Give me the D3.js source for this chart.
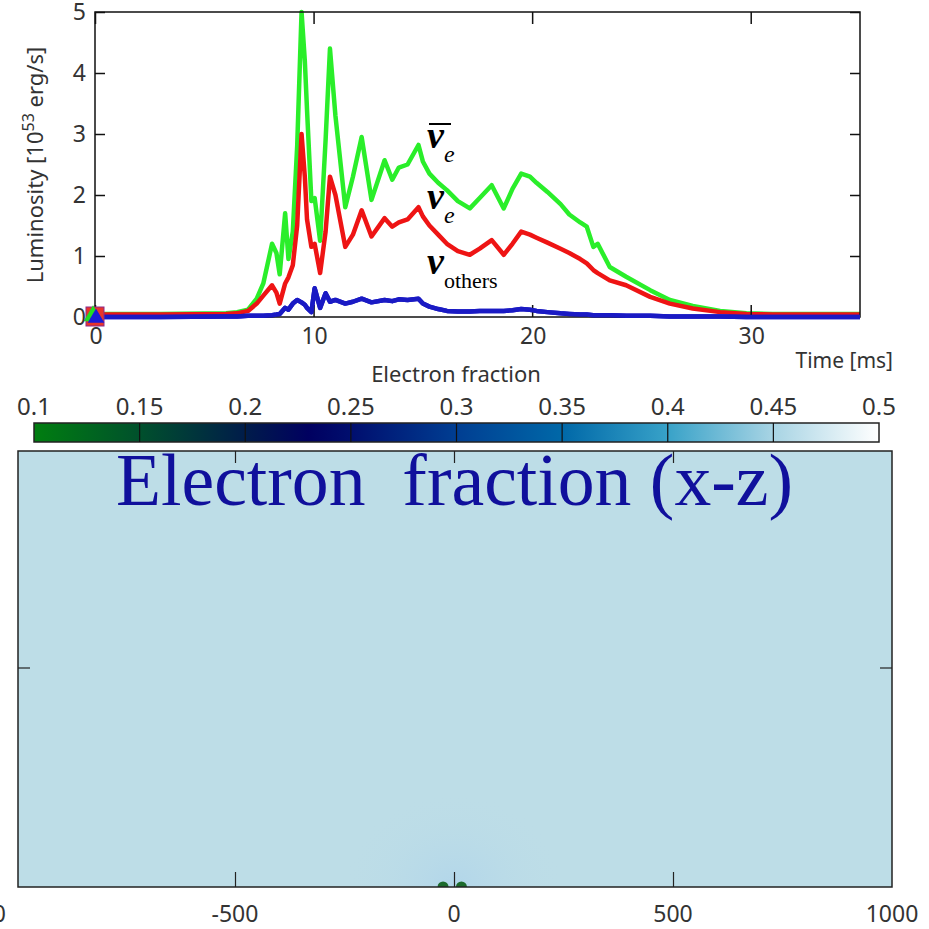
<!DOCTYPE html>
<html>
<head>
<meta charset="utf-8">
<script src="https://cdn.jsdelivr.net/npm/d3@7"></script>
<style>
  body { margin: 0; background: #fff; }
  svg { display: block; }
  .tick-lbl { font-family: "Noto Sans", "DejaVu Sans", sans-serif; fill: #333; }
</style>
</head>
<body>
<div id="chart"></div>
<script>
// ---- data ----
var timeMs = [0, 3, 6, 6.5, 7, 7.4, 7.7, 8.1, 8.3, 8.45, 8.7, 8.85, 9.05, 9.25, 9.45, 9.6, 9.7, 9.9,
  10.05, 10.3, 10.55, 10.75, 11.0, 11.45, 11.8, 12.2, 12.65, 13.25, 13.6, 13.9, 14.3, 14.8, 15.0,
  15.3, 15.7, 16.1, 16.6, 17.15, 17.6, 18.15, 18.7, 19.1, 19.5, 19.9, 20.2, 20.7, 21.3, 21.7,
  22.2, 22.5, 22.8, 23.0, 23.55, 24.3, 25.4, 26.3, 27.35, 28.6, 29.8, 31, 35];

var lumAntiNue = [0.05, 0.05, 0.06, 0.08, 0.12, 0.3, 0.55, 1.2, 1.05, 0.7, 1.7, 0.95, 1.4, 2.8, 5.0, 4.2, 3.4, 1.9,
  1.95, 1.25, 2.9, 4.4, 3.3, 1.8, 2.3, 2.95, 1.92, 2.57, 2.25, 2.45, 2.5, 2.82, 2.55,
  2.35, 2.2, 2.08, 1.9, 1.78, 1.95, 2.16, 1.78, 2.1, 2.35, 2.3, 2.2, 2.05, 1.85, 1.68,
  1.55, 1.48, 1.15, 1.2, 0.82, 0.66, 0.44, 0.28, 0.18, 0.1, 0.06, 0.05, 0.05];

var lumNue = [0.04, 0.04, 0.05, 0.06, 0.1, 0.22, 0.35, 0.52, 0.4, 0.22, 0.55, 0.65, 0.85, 1.5, 3.0, 2.3, 1.6, 1.15,
  1.2, 0.72, 1.4, 2.3, 2.0, 1.15, 1.35, 1.75, 1.32, 1.62, 1.48, 1.55, 1.6, 1.8, 1.65,
  1.5, 1.35, 1.2, 1.08, 1.02, 1.12, 1.26, 1.02, 1.2, 1.4, 1.35, 1.3, 1.22, 1.12, 1.05,
  0.95, 0.88, 0.77, 0.72, 0.6, 0.52, 0.33, 0.22, 0.14, 0.08, 0.05, 0.04, 0.04];

var lumOthers = [0.0, 0.0, 0.01, 0.01, 0.02, 0.02, 0.02, 0.03, 0.04, 0.05, 0.15, 0.12, 0.22, 0.28, 0.24, 0.2, 0.15, 0.08,
  0.47, 0.15, 0.39, 0.25, 0.28, 0.22, 0.25, 0.3, 0.24, 0.28, 0.26, 0.29, 0.28, 0.3, 0.22,
  0.17, 0.13, 0.1, 0.09, 0.09, 0.1, 0.1, 0.1, 0.11, 0.13, 0.12, 0.1, 0.08, 0.06, 0.05,
  0.04, 0.04, 0.03, 0.03, 0.03, 0.02, 0.02, 0.01, 0.01, 0.01, 0.0, 0.0, 0.0];

var timeTicks = [0, 10, 20, 30];
var lumTicks = [0, 1, 2, 3, 4, 5];

var yeTicks = [0.1, 0.15, 0.2, 0.25, 0.3, 0.35, 0.4, 0.45, 0.5];
var yeStopVals = [0.1, 0.15, 0.2, 0.23, 0.25, 0.3, 0.35, 0.4, 0.45, 0.5];
var yeStopCols = ["#007e10", "#00502c", "#001c4a", "#000060", "#000e6e", "#003e92", "#0068a8", "#38a2c8", "#a8d4e4", "#ffffff"];

var kmTicks = [-500, 0, 500, 1000];
var coreDotsKm = [-25, 17];

// ---- layout ----
var W = 929, H = 929;
var svg = d3.select("#chart").append("svg").attr("width", W).attr("height", H);

// =============== luminosity panel ===============
var lum = { left: 95, right: 860, top: 12, bottom: 317 };

var x = d3.scaleLinear().domain([0, 35]).range([lum.left, lum.right]);
var y = d3.scaleLinear().domain([0, 5]).range([lum.bottom, lum.top]);

var line = function (vals) {
  return d3.line()
    .x(function (d, i) { return x(timeMs[i]); })
    .y(function (d) { return y(d); })(vals);
};

var series = [
  { vals: lumAntiNue, color: "#2aee2a" },
  { vals: lumNue, color: "#ee1414" },
  { vals: lumOthers, color: "#1a1ac4" }
];

svg.selectAll(".lum-line")
  .data(series)
  .enter().append("path")
  .attr("class", "lum-line")
  .attr("d", function (d) { return line(d.vals); })
  .attr("fill", "none")
  .attr("stroke", function (d) { return d.color; })
  .attr("stroke-width", 4.5)
  .attr("stroke-linejoin", "round");

// axes with inward ticks
var gx = svg.append("g").attr("transform", "translate(0," + lum.bottom + ")")
  .call(d3.axisTop(x).tickValues(timeTicks).tickSize(12).tickFormat(""));
var gxTop = svg.append("g").attr("transform", "translate(0," + lum.top + ")")
  .call(d3.axisBottom(x).tickValues(timeTicks).tickSize(12).tickFormat(""));
var gy = svg.append("g").attr("transform", "translate(" + lum.left + ",0)")
  .call(d3.axisRight(y).tickValues(lumTicks).tickSize(10).tickFormat(""));
var gyR = svg.append("g").attr("transform", "translate(" + lum.right + ",0)")
  .call(d3.axisLeft(y).tickValues(lumTicks).tickSize(10).tickFormat(""));
[gx, gxTop, gy, gyR].forEach(function (g) {
  g.select(".domain").remove();
  g.selectAll("line").attr("stroke", "#111").attr("stroke-width", 1.5);
});

// frame
svg.append("rect")
  .attr("x", lum.left).attr("y", lum.top)
  .attr("width", lum.right - lum.left).attr("height", lum.bottom - lum.top)
  .attr("fill", "none").attr("stroke", "#111").attr("stroke-width", 1.5);

// redraw blue on top of frame bottom
svg.append("path").attr("d", line(lumOthers)).attr("fill", "none")
  .attr("stroke", "#1a1ac4").attr("stroke-width", 4.5).attr("stroke-linejoin", "round");

// start markers at origin
svg.append("rect")
  .attr("x", x(0) - 9).attr("y", y(0) - 10).attr("width", 18).attr("height", 19)
  .attr("fill", "#e8342a").attr("stroke", "#8a2a8a").attr("stroke-width", 1);
svg.append("path")
  .attr("d", d3.symbol(d3.symbolTriangle, 150)())
  .attr("transform", "translate(" + (x(0) - 2) + "," + (y(0) - 1) + ")")
  .attr("fill", "#22dd22");
svg.append("path")
  .attr("d", d3.symbol(d3.symbolTriangle, 120)())
  .attr("transform", "translate(" + (x(0) + 1) + "," + (y(0) + 1) + ")")
  .attr("fill", "#1a1ad8");

// tick labels
svg.selectAll(".ylbl").data(lumTicks).enter().append("text")
  .attr("class", "tick-lbl")
  .attr("x", lum.left - 9).attr("y", function (d) { return y(d) + 8; })
  .attr("text-anchor", "end").attr("font-size", 23)
  .text(function (d) { return d; });
svg.selectAll(".xlbl").data(timeTicks).enter().append("text")
  .attr("class", "tick-lbl")
  .attr("x", function (d) { return x(d) + 1; }).attr("y", lum.bottom + 27)
  .attr("text-anchor", "middle").attr("font-size", 23)
  .text(function (d) { return d; });

// axis titles
var yt = svg.append("text").attr("class", "tick-lbl")
  .attr("transform", "translate(43," + 165 + ") rotate(-90)")
  .attr("text-anchor", "middle").attr("font-size", 22);
yt.append("tspan").text("Luminosity [10");
yt.append("tspan").attr("dy", -9).attr("font-size", 16).text("53");
yt.append("tspan").attr("dy", 9).text(" erg/s]");

svg.append("text").attr("class", "tick-lbl")
  .attr("x", 893).attr("y", 368).attr("text-anchor", "end").attr("font-size", 21)
  .text("Time [ms]");

// neutrino labels
var nuFont = "'Liberation Serif', 'DejaVu Serif', serif";
function nuLabel(xp, yp, sub, bar, subItalic) {
  var t = svg.append("text").attr("x", xp).attr("y", yp)
    .attr("font-family", nuFont).attr("fill", "#000");
  t.append("tspan").attr("font-size", 38).attr("font-weight", "bold").attr("font-style", "italic").text("\u03bd");
  t.append("tspan").attr("dy", 14).attr("font-size", subItalic ? 24 : 22)
    .attr("font-style", subItalic ? "italic" : "normal").text(sub);
  if (bar) {
    svg.append("line").attr("x1", xp + 2).attr("x2", xp + 24)
      .attr("y1", yp - 24).attr("y2", yp - 24)
      .attr("stroke", "#000").attr("stroke-width", 2);
  }
}
nuLabel(427, 148, "e", true, true);
nuLabel(427, 209, "e", false, true);
nuLabel(427, 274, "others", false, false);

// =============== colorbar ===============
svg.append("text").attr("class", "tick-lbl")
  .attr("x", 456).attr("y", 382).attr("text-anchor", "middle").attr("font-size", 22)
  .text("Electron fraction");

var cx = d3.scaleLinear().domain([0.1, 0.5]).range([34, 879]);
var cb = { top: 423, bottom: 442 };

var defs = svg.append("defs");
var grad = defs.append("linearGradient").attr("id", "yeGrad")
  .attr("gradientUnits", "userSpaceOnUse")
  .attr("x1", cx(0.1)).attr("x2", cx(0.5)).attr("y1", 0).attr("y2", 0);
yeStopVals.forEach(function (v, i) {
  grad.append("stop")
    .attr("offset", (v - 0.1) / 0.4)
    .attr("stop-color", yeStopCols[i]);
});

svg.append("rect")
  .attr("x", cx(0.1)).attr("y", cb.top)
  .attr("width", cx(0.5) - cx(0.1)).attr("height", cb.bottom - cb.top)
  .attr("fill", "url(#yeGrad)").attr("stroke", "#222").attr("stroke-width", 1.5);
svg.selectAll(".cbsep").data(yeTicks.slice(1, -1)).enter().append("line")
  .attr("x1", function (d) { return cx(d); }).attr("x2", function (d) { return cx(d); })
  .attr("y1", cb.top).attr("y2", cb.bottom)
  .attr("stroke", "#111").attr("stroke-width", 1.2);
svg.selectAll(".cblbl").data(yeTicks).enter().append("text")
  .attr("class", "tick-lbl")
  .attr("x", function (d) { return cx(d); }).attr("y", 415)
  .attr("text-anchor", "middle").attr("font-size", 24)
  .text(function (d) { return d; });

// =============== electron fraction slice ===============
var slab = { left: 18, right: 892, top: 451, bottom: 887 };
var kx = d3.scaleLinear().domain([-1000, 1000]).range([16, 892]);

var glow = defs.append("radialGradient").attr("id", "coreGlow");
glow.append("stop").attr("offset", 0).attr("stop-color", "#b2d6ea").attr("stop-opacity", 1);
glow.append("stop").attr("offset", 1).attr("stop-color", "#bddde7").attr("stop-opacity", 0);
defs.append("clipPath").attr("id", "slabClip").append("rect")
  .attr("x", slab.left).attr("y", slab.top)
  .attr("width", slab.right - slab.left).attr("height", slab.bottom - slab.top);

var slabG = svg.append("g").attr("clip-path", "url(#slabClip)");
slabG.append("rect")
  .attr("x", slab.left).attr("y", slab.top)
  .attr("width", slab.right - slab.left).attr("height", slab.bottom - slab.top)
  .attr("fill", "#bddde7");
slabG.append("ellipse")
  .attr("cx", kx(0)).attr("cy", slab.bottom).attr("rx", 110).attr("ry", 95)
  .attr("fill", "url(#coreGlow)");
slabG.selectAll(".core").data(coreDotsKm).enter().append("circle")
  .attr("cx", function (d) { return kx(d); }).attr("cy", slab.bottom)
  .attr("r", 5.5).attr("fill", "#1c6a2c");

svg.append("rect")
  .attr("x", slab.left).attr("y", slab.top)
  .attr("width", slab.right - slab.left).attr("height", slab.bottom - slab.top)
  .attr("fill", "none").attr("stroke", "#222").attr("stroke-width", 1.5);

var kxb = svg.append("g").attr("transform", "translate(0," + slab.bottom + ")")
  .call(d3.axisTop(kx).tickValues([-500, 0, 500]).tickSize(15).tickFormat(""));
var kxt = svg.append("g").attr("transform", "translate(0," + slab.top + ")")
  .call(d3.axisBottom(kx).tickValues([-500, 0, 500]).tickSize(12).tickFormat(""));
[kxb, kxt].forEach(function (g) {
  g.select(".domain").remove();
  g.selectAll("line").attr("stroke", "#222").attr("stroke-width", 1.2);
});
// side ticks at mid height
[[slab.left, 12], [slab.right, -12]].forEach(function (s) {
  svg.append("line").attr("x1", s[0]).attr("x2", s[0] + s[1])
    .attr("y1", 668).attr("y2", 668).attr("stroke", "#222").attr("stroke-width", 1.2);
});

svg.selectAll(".kmlbl").data(kmTicks).enter().append("text")
  .attr("class", "tick-lbl")
  .attr("x", function (d) { return kx(d); }).attr("y", 922)
  .attr("text-anchor", "middle").attr("font-size", 23)
  .text(function (d) { return d; });
svg.append("text").attr("class", "tick-lbl")
  .attr("x", 6).attr("y", 922).attr("text-anchor", "end").attr("font-size", 23)
  .text("-1000");

// big title
svg.append("text")
  .attr("x", 116).attr("y", 505)
  .attr("font-family", nuFont).attr("font-size", 75).attr("fill", "#10109c")
  .attr("xml:space", "preserve")
  .attr("textLength", 677).attr("lengthAdjust", "spacingAndGlyphs")
  .text("Electron  fraction (x-z)");
</script>
</body>
</html>
